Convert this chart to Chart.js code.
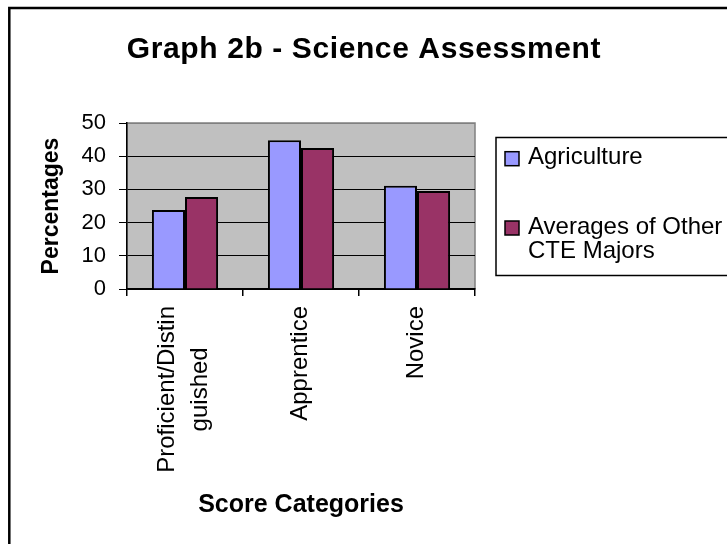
<!DOCTYPE html>
<html>
<head>
<meta charset="utf-8">
<script src="https://cdn.jsdelivr.net/npm/chart.js@4.4.1/dist/chart.umd.min.js"></script>
<style>
html, body { margin: 0; padding: 0; background: #fff; }
</style>
</head>
<body>
<canvas id="myChart" width="727" height="544"></canvas>
<script>
// data
var chartTitle = 'Graph 2b - Science Assessment';
var categories = [['Proficient/Distin', 'guished'], ['Apprentice'], ['Novice']];
var agriculture = [23.8, 44.8, 31.1];
var otherMajors = [27.7, 42.5, 29.5];
var seriesNames = [['Agriculture'], ['Averages of Other', 'CTE Majors']];
var yTicks = [0, 10, 20, 30, 40, 50];

var FONT = '"Liberation Sans", Arial, sans-serif';

// plot background, frame, title, rotated category labels and legend box
var decor = {
  id: 'decor',
  beforeDraw: function(chart) {
    var c = chart.ctx, a = chart.chartArea;
    c.save();
    c.fillStyle = '#fff';
    c.fillRect(0, 0, chart.width, chart.height);
    c.fillStyle = '#C0C0C0';
    c.fillRect(a.left, a.top, a.right - a.left, a.bottom - a.top);
    c.strokeStyle = '#808080';
    c.lineWidth = 1.5;
    c.strokeRect(a.left, a.top, a.right - a.left, a.bottom - a.top);
    c.restore();
  },
  afterDraw: function(chart) {
    var c = chart.ctx;
    c.save();
    // outer frame
    c.strokeStyle = '#000';
    c.lineWidth = 2.5;
    c.beginPath();
    c.moveTo(9.3, chart.height);
    c.lineTo(9.3, 8);
    c.lineTo(chart.width, 8);
    c.stroke();

    // title
    c.fillStyle = '#000';
    c.font = 'bold 30px ' + FONT;
    c.letterSpacing = '0.6px';
    c.textAlign = 'center';
    c.textBaseline = 'alphabetic';
    c.fillText(chartTitle, 364, 58);
    c.letterSpacing = '0px';

    // category labels, rotated, lines centred on each other
    var xs = chart.scales.x;
    c.font = '24px ' + FONT;
    categories.forEach(function(lines, i) {
      var cx = xs.getPixelForValue(i);
      var w = Math.max.apply(null, lines.map(function(l) { return c.measureText(l).width; }));
      c.save();
      c.translate(cx - 1, 306 + w / 2);
      c.rotate(-Math.PI / 2);
      c.textAlign = 'center';
      c.textBaseline = 'middle';
      lines.forEach(function(l, j) {
        c.fillText(l, 0, (j - (lines.length - 1) / 2) * 33);
      });
      c.restore();
    });

    // legend
    c.strokeStyle = '#000';
    c.lineWidth = 1.5;
    c.strokeRect(496, 137.5, 300, 138);
    chart.data.datasets.forEach(function(ds, i) {
      var top = 151.7 + i * 69.3;
      c.fillStyle = ds.backgroundColor;
      c.fillRect(505, top, 14, 14);
      c.strokeRect(505, top, 14, 14);
      c.fillStyle = '#000';
      c.font = '24px ' + FONT;
      c.textAlign = 'left';
      c.textBaseline = 'alphabetic';
      seriesNames[i].forEach(function(l, j) {
        c.fillText(l, 528, top + 12.5 + j * 24.4);
      });
    });
    c.restore();
  }
};

var ctx = document.getElementById('myChart').getContext('2d');
var chart = new Chart(ctx, {
  type: 'bar',
  data: {
    labels: categories.map(function(l) { return l.join(''); }),
    datasets: [{
      label: seriesNames[0].join(' '),
      data: agriculture,
      backgroundColor: '#9999FF',
      borderColor: '#000',
      borderWidth: 2,
      categoryPercentage: 0.57,
      barPercentage: 1.0
    }, {
      label: seriesNames[1].join(' '),
      data: otherMajors,
      backgroundColor: '#993366',
      borderColor: '#000',
      borderWidth: 2,
      categoryPercentage: 0.57,
      barPercentage: 1.0
    }]
  },
  options: {
    responsive: false,
    devicePixelRatio: 1,
    animation: false,
    layout: { padding: { left: 0, top: 123, right: 252, bottom: 0 } },
    plugins: {
      legend: { display: false },
      tooltip: { enabled: false },
      title: { display: false }
    },
    scales: {
      x: {
        offset: true,
        grid: { offset: true, drawOnChartArea: false, drawTicks: true, tickLength: 7, color: '#000', lineWidth: 1.5 },
        border: { color: '#000', width: 1.5 },
        ticks: { display: false },
        title: {
          display: true, text: 'Score Categories', color: '#000',
          font: { family: FONT, size: 25, weight: 'bold' },
          padding: { top: 0, bottom: 24 }
        },
        afterFit: function(s) { s.height = 255; }
      },
      y: {
        min: 0,
        max: 50,
        afterBuildTicks: function(s) {
          s.ticks = yTicks.map(function(v) { return { value: v }; });
        },
        grid: {
          color: function(c) { return c.tick && c.tick.value === 50 ? '#808080' : '#000'; },
          tickColor: '#000',
          tickLength: 8,
          lineWidth: 1
        },
        border: { color: '#000', width: 1.5 },
        ticks: { color: '#000', font: { family: FONT, size: 22 }, padding: 13 },
        title: {
          display: true, text: 'Percentages', color: '#000',
          font: { family: FONT, size: 23, weight: 'bold' },
          padding: { top: 38, bottom: 0 }
        },
        afterFit: function(s) { s.width = 127; }
      }
    }
  },
  plugins: [decor]
});
</script>
</body>
</html>
